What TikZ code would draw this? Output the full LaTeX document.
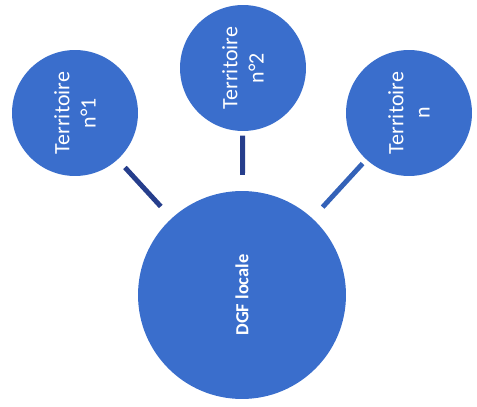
\documentclass[tikz,border=0pt]{standalone}
\usepackage{fontspec}
\setmainfont{Carlito}
\definecolor{disc}{RGB}{58,110,204}
\definecolor{linkdark}{RGB}{38,62,140}
\definecolor{linklight}{RGB}{52,98,184}
\begin{document}
\begin{tikzpicture}[
    x=0.02cm, y=-0.02cm,
    every node/.style={font=\fontsize{12.5}{15}\selectfont, text=white},
    terr/.style={circle, fill=disc, minimum size=2.52cm, inner sep=0pt, align=center, rotate=90},
    link/.style={line width=2.8pt}
]
\useasboundingbox (0,0) rectangle (477,406);

\node[terr] (t1) at (75,113) {Territoire\\n°1};
\node[terr] (t2) at (243,68) {Territoire\\n°2};
\node[terr] (tn) at (409,113) {Territoire\\n};

\node[circle, fill=disc, minimum size=4.16cm, inner sep=0pt, rotate=90,
      font=\fontsize{10.5}{12}\selectfont\bfseries] (dgf) at (242,295) {DGF locale};

\draw[link, linkdark, shorten <=6pt, shorten >=9pt] (t1) -- (dgf);
\draw[link, linkdark, shorten <=2.5pt, shorten >=9pt] (t2) -- (dgf);
\draw[link, linklight, shorten <=3pt, shorten >=8.5pt] (tn) -- (dgf);
\end{tikzpicture}
\end{document}
